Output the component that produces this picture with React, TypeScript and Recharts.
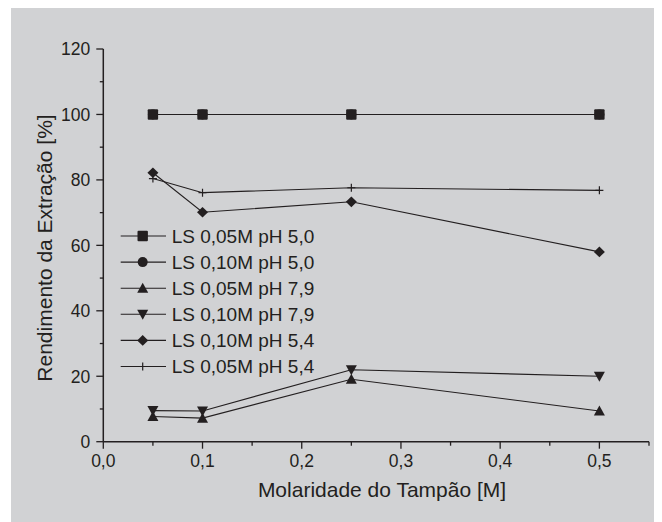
import React from "react";
import { LineChart, Line, XAxis, YAxis, Label } from "recharts";

const molarity = [0.05, 0.1, 0.25, 0.5];

const ls005ph50 = [100, 100, 100, 100];
const ls010ph50 = [100, 100, 100, 100];
const ls005ph79 = [7.7, 7.2, 19.1, 9.4];
const ls010ph79 = [9.5, 9.4, 22.0, 20.0];
const ls010ph54 = [82.2, 70.1, 73.3, 58.0];
const ls005ph54 = [80.4, 76.1, 77.6, 76.8];

const xTicks = [0, 0.05, 0.1, 0.15, 0.2, 0.25, 0.3, 0.35, 0.4, 0.45, 0.5, 0.55];
const yTicks = [0, 10, 20, 30, 40, 50, 60, 70, 80, 90, 100, 110, 120];

const INK = "#231f20";
const BG = "#d1d2d4";
const FONT = "'Liberation Sans', Arial, Helvetica, sans-serif";

type Shape = "square" | "circle" | "up" | "down" | "diamond" | "plus";

// legend order
const series: { key: string; name: string; shape: Shape; values: number[] }[] = [
  { key: "a", name: "LS 0,05M pH 5,0", shape: "square", values: ls005ph50 },
  { key: "b", name: "LS 0,10M pH 5,0", shape: "circle", values: ls010ph50 },
  { key: "c", name: "LS 0,05M pH 7,9", shape: "up", values: ls005ph79 },
  { key: "d", name: "LS 0,10M pH 7,9", shape: "down", values: ls010ph79 },
  { key: "e", name: "LS 0,10M pH 5,4", shape: "diamond", values: ls010ph54 },
  { key: "f", name: "LS 0,05M pH 5,4", shape: "plus", values: ls005ph54 },
];

// draw order: circles first so the squares sit on top of them
const drawOrder = ["b", "a", "c", "d", "e", "f"];

const data = molarity.map((m, i) => {
  const row: any = { x: m };
  series.forEach((s) => (row[s.key] = s.values[i]));
  return row;
});

function Marker({ shape, cx, cy }: { shape: Shape; cx: number; cy: number }) {
  switch (shape) {
    case "square":
      return <rect x={cx - 5.2} y={cy - 5.2} width={10.4} height={10.4} rx={1} fill={INK} />;
    case "circle":
      return <circle cx={cx} cy={cy} r={5} fill={INK} />;
    case "up":
      return <path d={`M${cx},${cy - 5.5} L${cx + 5.5},${cy + 4.5} L${cx - 5.5},${cy + 4.5} Z`} fill={INK} />;
    case "down":
      return <path d={`M${cx},${cy + 5.5} L${cx + 5.5},${cy - 4.5} L${cx - 5.5},${cy - 4.5} Z`} fill={INK} />;
    case "diamond":
      return <path d={`M${cx},${cy - 5.3} L${cx + 5.5},${cy} L${cx},${cy + 5.3} L${cx - 5.5},${cy} Z`} fill={INK} />;
    case "plus":
      return (
        <path d={`M${cx - 4},${cy} H${cx + 4} M${cx},${cy - 4} V${cy + 4}`} stroke={INK} strokeWidth={1.2} fill="none" />
      );
  }
}

const fmt = (v: number) => v.toFixed(1).replace(".", ",");

const XTick = (props: any) => {
  const { x, y, payload, index } = props;
  const major = index % 2 === 0;
  return (
    <g>
      <line x1={x} y1={y} x2={x} y2={y + (major ? 7 : 4)} stroke={INK} strokeWidth={1.3} />
      {major && (
        <text x={x} y={y + 25.5} textAnchor="middle" fontSize={17.5} fill={INK} fontFamily={FONT}>
          {fmt(payload.value)}
        </text>
      )}
    </g>
  );
};

const YTick = (props: any) => {
  const { x, y, payload, index } = props;
  const major = index % 2 === 0;
  return (
    <g>
      <line x1={x} y1={y} x2={x - (major ? 7 : 3.5)} y2={y} stroke={INK} strokeWidth={1.3} />
      {major && (
        <text x={x - 13} y={y + 6.3} textAnchor="end" fontSize={17.5} fill={INK} fontFamily={FONT}>
          {payload.value}
        </text>
      )}
    </g>
  );
};

const LegendBox = () => (
  <svg width={240} height={160} style={{ position: "absolute", left: 104, top: 214 }}>
    {series.map((s, i) => {
      const cy = 14 + i * 26.1;
      return (
        <g key={s.key}>
          <line x1={5.7} y1={cy} x2={51} y2={cy} stroke={INK} strokeWidth={1.1} />
          <Marker shape={s.shape} cx={27.7} cy={cy} />
          <text x={56.7} y={cy + 6.7} fontSize={19} fill={INK} fontFamily={FONT}>
            {s.name}
          </text>
        </g>
      );
    })}
  </svg>
);

export default function App() {
  return (
    <div style={{ position: "relative", marginLeft: 3, width: 651, height: 514, background: BG, fontFamily: FONT }}>
      <LineChart width={651} height={514} data={data} margin={{ top: 41, right: 13, left: 0, bottom: 0 }}>
        <XAxis
          dataKey="x"
          type="number"
          domain={[0, 0.55]}
          ticks={xTicks}
          interval={0}
          height={80.3}
          tickSize={0}
          tickMargin={0}
          tick={<XTick />}
          axisLine={{ stroke: INK, strokeWidth: 1.5 }}
          tickLine={false}
        >
          <Label
            content={() => (
              <text x={371} y={489} textAnchor="middle" fontSize={21} fill={INK} fontFamily={FONT}>
                Molaridade do Tampão [M]
              </text>
            )}
          />
        </XAxis>
        <YAxis
          type="number"
          domain={[0, 120]}
          ticks={yTicks}
          interval={0}
          width={92.3}
          tickSize={0}
          tickMargin={0}
          tick={<YTick />}
          axisLine={{ stroke: INK, strokeWidth: 1.5 }}
          tickLine={false}
        >
          <Label
            content={() => (
              <text
                x={40.5}
                y={240}
                textAnchor="middle"
                fontSize={21}
                fill={INK}
                fontFamily={FONT}
                transform="rotate(-90 40.5 240)"
              >
                Rendimento da Extração [%]
              </text>
            )}
          />
        </YAxis>
        {drawOrder.map((k) => {
          const s = series.find((q) => q.key === k)!;
          return (
            <Line
              key={s.key}
              dataKey={s.key}
              name={s.name}
              stroke={INK}
              strokeWidth={1.1}
              isAnimationActive={false}
              dot={(p: any) => <Marker key={`${s.key}-${p.index}`} shape={s.shape} cx={p.cx} cy={p.cy} />}
              activeDot={false}
            />
          );
        })}
      </LineChart>
      <LegendBox />
    </div>
  );
}
